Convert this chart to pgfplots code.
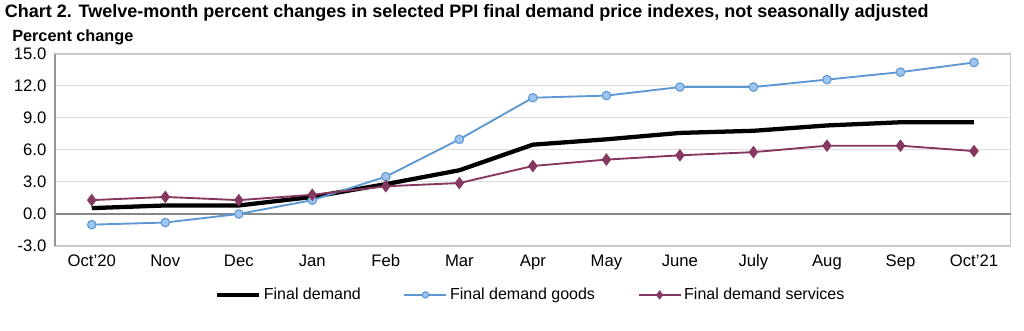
\documentclass[border=0pt]{standalone}
\usepackage{fontspec}
\setmainfont{Liberation Sans}
\usepackage{pgfplots}
\pgfplotsset{compat=1.18}
\definecolor{goodsline}{RGB}{93,152,211}
\definecolor{goodsfill}{RGB}{158,196,240}
\definecolor{servline}{RGB}{133,55,96}
\definecolor{gridc}{RGB}{222,222,222}
\definecolor{framec}{RGB}{200,200,200}
\definecolor{leftc}{RGB}{150,150,150}
\definecolor{zeroc}{RGB}{135,135,135}
\begin{document}
\begin{tikzpicture}[x=1pt,y=1pt]
\path[use as bounding box] (0pt,0pt) rectangle (768pt,248.25pt);
\node[anchor=west,inner sep=0pt,font=\fontsize{13.5}{15}\selectfont\bfseries] at (3.5pt,238.5pt) {Chart 2. Twelve-month percent changes in selected PPI final demand price indexes, not seasonally adjusted};
\node[anchor=west,inner sep=0pt,font=\fontsize{12.2}{14}\selectfont\bfseries] at (9pt,220.5pt) {Percent change};
\begin{axis}[
  at={(41.25pt,63.75pt)}, anchor=south west,
  scale only axis, width=716.8pt, height=144pt,
  xmin=-0.5, xmax=12.5, ymin=-3, ymax=15,
  xtick={0,...,12},
  xticklabels={Oct'20,Nov,Dec,Jan,Feb,Mar,Apr,May,June,July,Aug,Sep,Oct'21},
  ytick={-3,0,3,6,9,12,15},
  yticklabels={-3.0,0.0,3.0,6.0,9.0,12.0,15.0},
  tick style={draw=none},
  ymajorgrids, grid style={gridc, line width=0.75pt},
  axis line style={framec, line width=1pt},
  ticklabel style={font=\fontsize{12.5}{14}\selectfont},
  yticklabel style={xshift=-3pt},
  xticklabel style={yshift=-3pt},
  legend columns=3,
  legend style={draw=none, fill=none, at={(0.498,-0.255)}, anchor=center,
    font=\fontsize{12}{14}\selectfont, inner sep=0pt,
    /tikz/every even column/.append style={column sep=30pt}},
  legend cell align=left,
  legend image code/.code={\draw[mark repeat=2,mark phase=2,#1,mark size=2.4pt] plot coordinates {(0pt,0pt) (15.75pt,0pt) (31.5pt,0pt)};},
  clip=false,
]
\draw[leftc, line width=1.6pt] (axis cs:-0.5,-3) -- (axis cs:-0.5,15);
\draw[zeroc, line width=1.3pt] (axis cs:-0.5,0) -- (axis cs:12.5,0);
\addplot[black, line width=3.2pt, line join=round] coordinates {
(0,0.55) (1,0.8) (2,0.8) (3,1.6) (4,2.8) (5,4.1) (6,6.5) (7,7.0) (8,7.6) (9,7.8) (10,8.3) (11,8.6) (12,8.6)};
\addlegendentry{Final demand}
\addplot[goodsline, line width=1.4pt, mark=*, mark size=3.2pt, mark options={fill=goodsfill, draw=goodsline, line width=0.8pt}] coordinates {
(0,-1.0) (1,-0.8) (2,0.0) (3,1.3) (4,3.5) (5,7.0) (6,10.9) (7,11.1) (8,11.9) (9,11.9) (10,12.6) (11,13.3) (12,14.2)};
\addlegendentry{Final demand goods}
\addplot[servline, line width=1.4pt, mark=diamond*, mark size=3.6pt, mark options={fill=servline, draw=servline}] coordinates {
(0,1.3) (1,1.6) (2,1.3) (3,1.8) (4,2.6) (5,2.9) (6,4.5) (7,5.1) (8,5.5) (9,5.8) (10,6.4) (11,6.4) (12,5.9)};
\addlegendentry{Final demand services}
\end{axis}
\end{tikzpicture}
\end{document}
